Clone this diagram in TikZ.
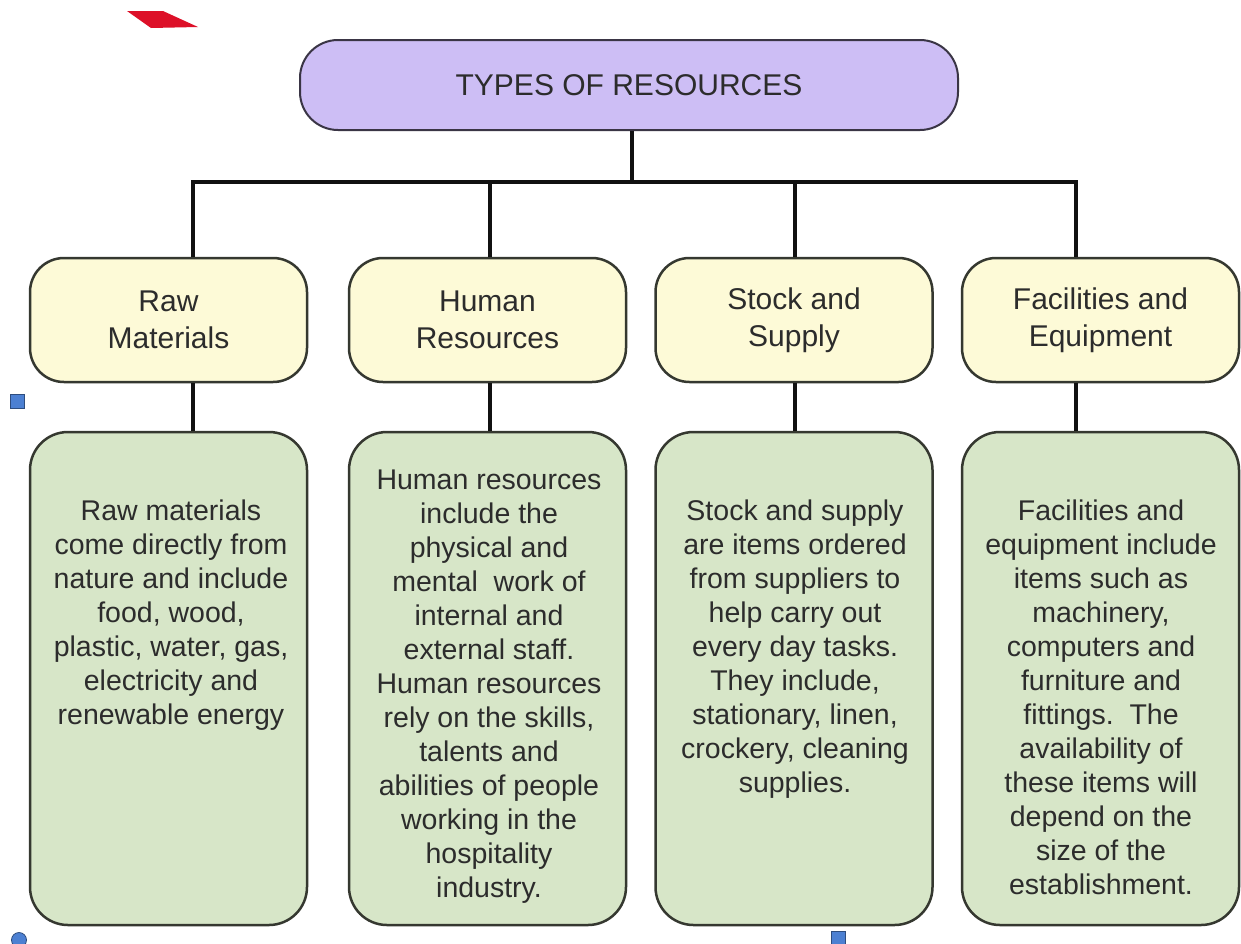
\documentclass[tikz,border=0pt]{standalone}
\usepackage{fontspec}
\setmainfont{Liberation Sans}
\definecolor{titlefill}{HTML}{CDBEF5}
\definecolor{titleborder}{HTML}{3A3545}
\definecolor{headfill}{HTML}{FDFAD7}
\definecolor{bodyfill}{HTML}{D7E6C8}
\definecolor{boxborder}{HTML}{353830}
\definecolor{textcol}{HTML}{2C2C2C}
\definecolor{linecol}{HTML}{111111}
\definecolor{markblue}{HTML}{4C80D2}
\definecolor{markred}{HTML}{DD1028}
\tikzset{
  titlebox/.style={draw=titleborder, line width=2pt, fill=titlefill, rounded corners=38pt,
    minimum width=658pt, minimum height=90pt, inner sep=0pt,
    font=\fontsize{30}{36}\selectfont, text=textcol},
  headbox/.style={draw=boxborder, line width=2.5pt, fill=headfill, rounded corners=34pt,
    minimum width=277pt, minimum height=124pt, inner sep=0pt, align=center,
    font=\fontsize{30}{37}\selectfont, text=textcol},
  bodybox/.style={draw=boxborder, line width=2.5pt, fill=bodyfill, rounded corners=38pt,
    minimum width=277pt, minimum height=493pt, inner sep=0pt},
  bodytext/.style={align=center, font=\fontsize{28.5}{34}\selectfont, text=textcol,
    inner sep=0pt, anchor=north},
  link/.style={line width=3.5pt, draw=linecol},
  marker/.style={fill=markblue, draw=markblue!60!black, line width=0.8pt}
}
\begin{document}
\begin{tikzpicture}[x=1pt, y=-1pt]
\clip (0,0) rectangle (1241,943);
\fill[white] (0,0) rectangle (1241,943);

% decorations
\fill[markred] (127,11) -- (163,11) -- (198,27) -- (151,28) -- cycle;
\node[marker, minimum size=14pt, inner sep=0pt] (sq1) at (17,401) {};
\node[marker, minimum size=14pt, inner sep=0pt] (sq2) at (838,938) {};
\node[marker, circle, minimum size=15pt, inner sep=0pt] (cr1) at (19,940) {};

% title
\node[titlebox] (title) at (629,85) {TYPES OF RESOURCES};

% headers
\node[headbox] (h1) at (168.5,320) {Raw\\Materials};
\node[headbox] (h2) at (487.5,320) {Human\\Resources};
\node[headbox] (h3) at (794,320) {Stock and\\Supply};
\node[headbox] (h4) at (1100.5,320) {Facilities and\\Equipment};

% bodies
\node[bodybox] (g1) at (168.5,678.5) {};
\node[bodybox] (g2) at (487.5,678.5) {};
\node[bodybox] (g3) at (794,678.5) {};
\node[bodybox] (g4) at (1100.5,678.5) {};

\node[bodytext] (t1) at (171,500) {Raw materials\\come directly from\\nature and include\\food, wood,\\plastic, water, gas,\\electricity and\\renewable energy};
\node[bodytext] (t2) at (489,470) {Human resources\\include the\\physical and\\mental\ \ work of\\internal and\\external staff.\\Human resources\\rely on the skills,\\talents and\\abilities of people\\working in the\\hospitality\\industry.};
\node[bodytext] (t3) at (795,500) {Stock and supply\\are items ordered\\from suppliers to\\help carry out\\every day tasks.\\They include,\\stationary, linen,\\crockery, cleaning\\supplies.};
\node[bodytext] (t4) at (1101,500) {Facilities and\\equipment include\\items such as\\machinery,\\computers and\\furniture and\\fittings.\ \ The\\availability of\\these items will\\depend on the\\size of the\\establishment.};

% connectors
\coordinate (j1) at (193,182);
\coordinate (j2) at (490,182);
\coordinate (j3) at (795,182);
\coordinate (j4) at (1076,182);
\coordinate (jt) at (632,182);
\draw[link] ([xshift=-1.75pt]j1) -- ([xshift=1.75pt]j4);
\draw[link] (title.south -| jt) -- (jt);
\draw[link] (j1) -- (j1 |- h1.north);
\draw[link] (j2) -- (j2 |- h2.north);
\draw[link] (j3) -- (j3 |- h3.north);
\draw[link] (j4) -- (j4 |- h4.north);
\draw[link] (j1 |- h1.south) -- (j1 |- g1.north);
\draw[link] (j2 |- h2.south) -- (j2 |- g2.north);
\draw[link] (j3 |- h3.south) -- (j3 |- g3.north);
\draw[link] (j4 |- h4.south) -- (j4 |- g4.north);
\end{tikzpicture}
\end{document}
